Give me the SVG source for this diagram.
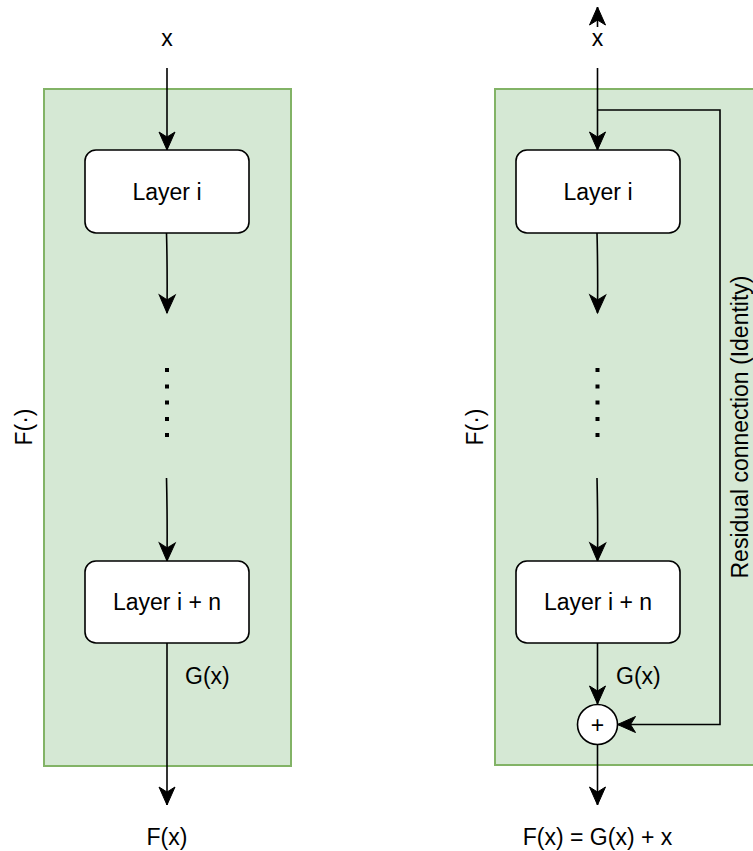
<svg xmlns="http://www.w3.org/2000/svg" width="753" height="851" viewBox="0 0 753 851">
<style>
.cont{fill:#d5e8d4;stroke:#82b366;stroke-width:2}
.box{fill:#ffffff;stroke:#000000;stroke-width:1.6}
.edge{fill:none;stroke:#000000;stroke-width:1.6}
.lbl{font-family:"Liberation Sans",Arial,sans-serif;font-size:23px;fill:#000000}
.mid{text-anchor:middle}
.dot{fill:#000000}
</style>
<defs>
<marker id="arr" markerUnits="userSpaceOnUse" markerWidth="20" markerHeight="20" refX="0" refY="0" orient="auto" overflow="visible">
<path d="M0,0 L-18,-8 L-13,0 L-18,8 Z" fill="#000000" stroke="#000000" stroke-width="1"/>
</marker>
</defs>

<g id="left-container">
<rect class="cont" x="44" y="89" width="247" height="677"/>
<text class="lbl mid" transform="translate(32,427) rotate(-90)">F(·)</text>
</g>
<g id="right-container">
<rect class="cont" x="495" y="89" width="280" height="676"/>
<text class="lbl mid" transform="translate(483,427) rotate(-90)">F(·)</text>
</g>

<g id="connectors">
<path class="edge" d="M167,68 V150" marker-end="url(#arr)"/>
<path class="edge" d="M166.5,233 Q167.5,270 167,313" marker-end="url(#arr)"/>
<path class="edge" d="M166.5,478 Q167.5,520 167,561" marker-end="url(#arr)"/>
<path class="edge" d="M167,643 V805" marker-end="url(#arr)"/>

<path class="edge" d="M597.5,27 V7" marker-end="url(#arr)"/>
<path class="edge" d="M597.5,68 V150" marker-end="url(#arr)"/>
<path class="edge" d="M597,233 Q598,270 597.5,313" marker-end="url(#arr)"/>
<path class="edge" d="M597,478 Q598,520 597.5,561" marker-end="url(#arr)"/>
<path class="edge" d="M597.5,643 V704" marker-end="url(#arr)"/>
<path class="edge" d="M597.5,110 H720 V724.5 H617.5" marker-end="url(#arr)"/>
<path class="edge" d="M597.5,745 V805" marker-end="url(#arr)"/>
</g>

<g id="left-input"><text class="lbl mid" x="167" y="46">x</text></g>
<g id="left-layer-i">
<rect class="box" x="85" y="150" width="164" height="83" rx="11"/>
<text class="lbl mid" x="167" y="200">Layer i</text>
</g>
<g id="left-dots">
<rect class="dot" x="165" y="368" width="4" height="4"/>
<rect class="dot" x="165" y="384.5" width="4" height="4"/>
<rect class="dot" x="165" y="400.5" width="4" height="4"/>
<rect class="dot" x="165" y="417" width="4" height="4"/>
<rect class="dot" x="165" y="433" width="4" height="4"/>
</g>
<g id="left-layer-in">
<rect class="box" x="85" y="561" width="164" height="82" rx="11"/>
<text class="lbl mid" x="167" y="610">Layer i + n</text>
</g>
<g id="left-gx"><text class="lbl" x="185" y="683.5">G(x)</text></g>
<g id="left-output"><text class="lbl mid" x="167" y="845">F(x)</text></g>

<g id="right-input"><text class="lbl mid" x="597.5" y="46">x</text></g>
<g id="right-layer-i">
<rect class="box" x="516" y="150" width="164" height="83" rx="11"/>
<text class="lbl mid" x="598" y="200">Layer i</text>
</g>
<g id="right-dots">
<rect class="dot" x="595.5" y="368" width="4" height="4"/>
<rect class="dot" x="595.5" y="384.5" width="4" height="4"/>
<rect class="dot" x="595.5" y="400.5" width="4" height="4"/>
<rect class="dot" x="595.5" y="417" width="4" height="4"/>
<rect class="dot" x="595.5" y="433" width="4" height="4"/>
</g>
<g id="right-layer-in">
<rect class="box" x="516" y="561" width="164" height="82" rx="11"/>
<text class="lbl mid" x="598" y="610">Layer i + n</text>
</g>
<g id="right-gx"><text class="lbl" x="616" y="683.5">G(x)</text></g>
<g id="plus">
<circle class="box" cx="597.5" cy="724.5" r="20"/>
<text class="lbl mid" x="597.5" y="732.5" style="font-size:23px">+</text>
</g>
<g id="residual-label"><text class="lbl mid" transform="translate(748,427) rotate(-90)">Residual connection (Identity)</text></g>
<g id="right-output"><text class="lbl mid" x="597.5" y="845">F(x) = G(x) + x</text></g>
</svg>
